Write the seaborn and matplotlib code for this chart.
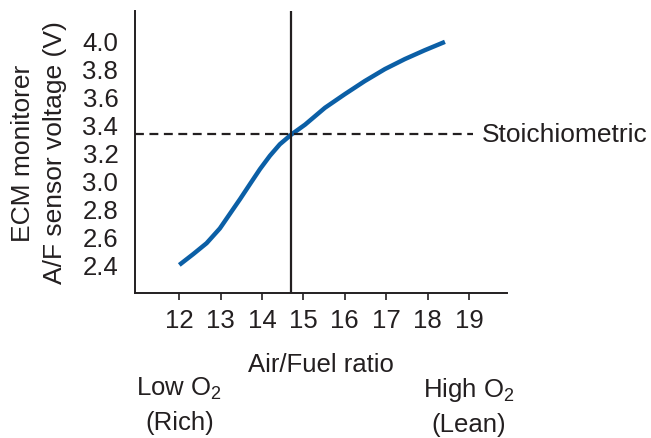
import pandas as pd
import matplotlib
matplotlib.use("Agg")
import matplotlib.pyplot as plt
import seaborn as sns

# values
afr = [12.0, 12.34, 12.66, 12.98, 13.22, 13.47, 13.71, 13.95, 14.19, 14.43, 14.71,
       15.04, 15.52, 16.0, 16.48, 16.97, 17.45, 17.93, 18.42]
voltage = [2.40, 2.478, 2.555, 2.66, 2.763, 2.87, 2.977, 3.083, 3.178, 3.26, 3.33,
           3.40, 3.52, 3.617, 3.71, 3.796, 3.867, 3.93, 3.99]
x_ticks = [12, 13, 14, 15, 16, 17, 18, 19]
y_ticks = [2.4, 2.6, 2.8, 3.0, 3.2, 3.4, 3.6, 3.8, 4.0]
stoich_afr = 14.7
stoich_v = 3.33
stoich_end = 19.1
side_labels = ["Low O$\\mathregular{_2}$\n(Rich)", "High O$\\mathregular{_2}$\n(Lean)"]
side_pos = [12, 19]

df = pd.DataFrame({"afr": afr, "voltage": voltage})

sns.set_style("ticks")
plt.rcParams["font.family"] = ["Liberation Sans", "DejaVu Sans"]
plt.rcParams["mathtext.fontset"] = "custom"
plt.rcParams["mathtext.rm"] = "Liberation Sans"
ink = "#231f20"
fs = 18.5

fig = plt.figure(figsize=(6.51, 4.39), dpi=100)
ax = fig.add_axes([0.2074, 0.3303, 0.5714, 0.6424])

sns.lineplot(data=df, x="afr", y="voltage", ax=ax, color="#0b5fa6", linewidth=3.2,
             solid_capstyle="butt", solid_joinstyle="round")

ax.set_xlim(10.93, 19.92)
ax.set_ylim(2.2, 4.21)

ax.axvline(stoich_afr, color=ink, linewidth=1.6)
ax.hlines(stoich_v, 10.93, stoich_end, color=ink, linewidth=1.6, linestyles=(0, (4, 2.5)))
ax.text(stoich_end + 0.2, stoich_v, "Stoichiometric", fontsize=fs + 0.5, color=ink,
        va="center", ha="left", clip_on=False)

ax.set_xticks(x_ticks)
ax.set_yticks(y_ticks)
ax.set_yticklabels([f"{v:.1f}" for v in y_ticks])
ax.tick_params(axis="x", length=5, width=1.2, color=ink, pad=6, labelsize=fs, labelcolor=ink)
ax.tick_params(axis="y", length=0, pad=12, labelsize=fs, labelcolor=ink)

for s in ["right", "top"]:
    ax.spines[s].set_visible(False)
for s in ["left", "bottom"]:
    ax.spines[s].set_linewidth(1.4)
    ax.spines[s].set_color(ink)

ax.set_xlabel("Air/Fuel ratio", fontsize=fs, color=ink, labelpad=14)
ax.set_ylabel("ECM monitorer\nA/F sensor voltage (V)", fontsize=19, color=ink,
              labelpad=11, linespacing=1.45)

for lab, xp in zip(side_labels, side_pos):
    ax.text(xp, -0.29, lab, transform=ax.get_xaxis_transform(), ha="center", va="top",
            fontsize=fs, color=ink, linespacing=1.5, clip_on=False)

fig.savefig("out.png", dpi=100)
